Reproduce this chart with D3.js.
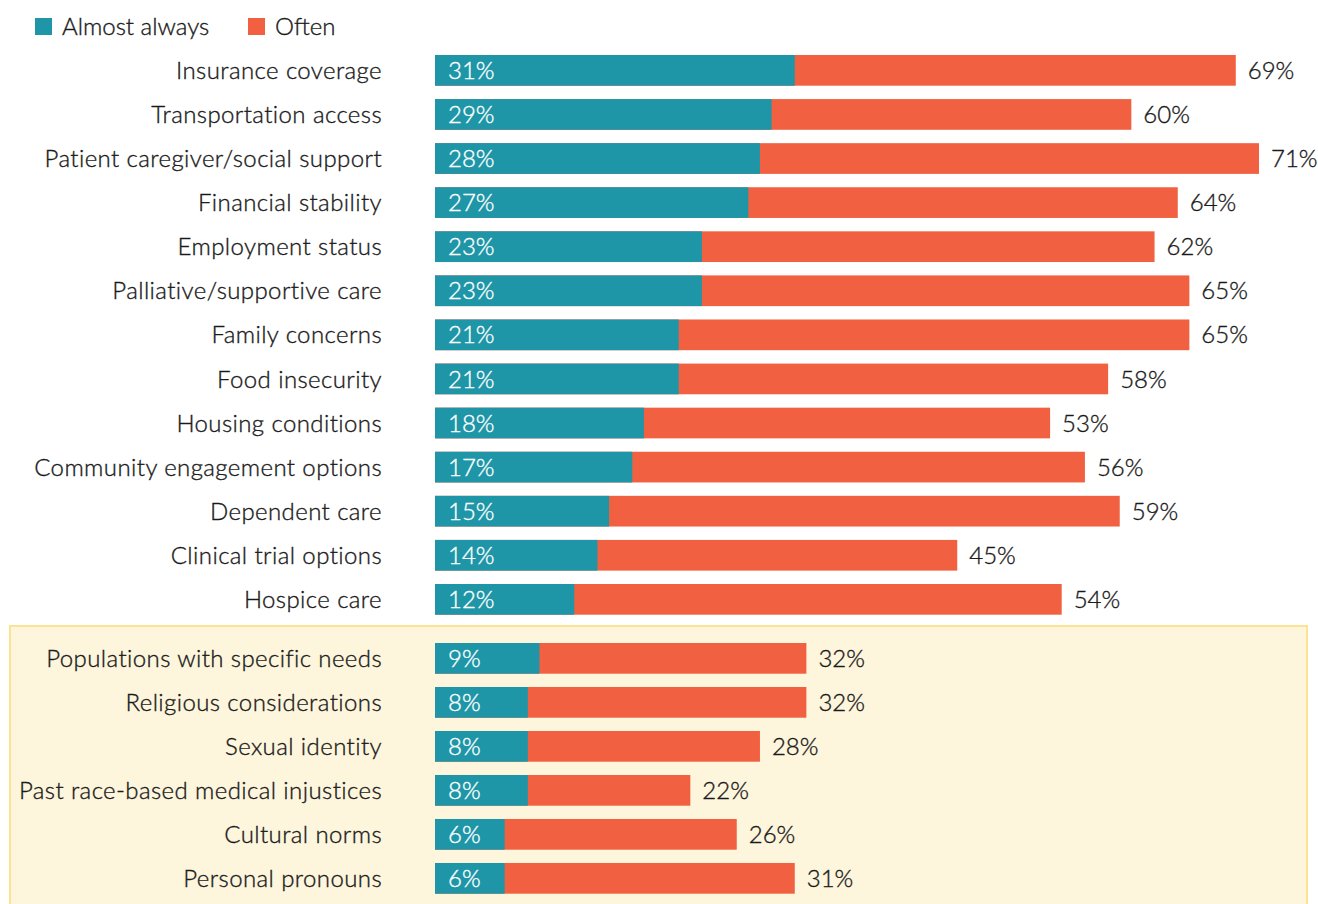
<!DOCTYPE html>
<html>
<head>
<meta charset="utf-8">
<script src="https://cdn.jsdelivr.net/npm/d3@7"></script>
<style>
  html, body { margin: 0; padding: 0; background: #fff; }
  svg { display: block; }
  text { font-family: Lato, "Open Sans", sans-serif; font-weight: 300; }
</style>
</head>
<body>
<svg id="chart" width="1318" height="904"></svg>
<script>
// Factors considered, share of respondents (%)
const categories = [
  "Insurance coverage",
  "Transportation access",
  "Patient caregiver/social support",
  "Financial stability",
  "Employment status",
  "Palliative/supportive care",
  "Family concerns",
  "Food insecurity",
  "Housing conditions",
  "Community engagement options",
  "Dependent care",
  "Clinical trial options",
  "Hospice care",
  "Populations with specific needs",
  "Religious considerations",
  "Sexual identity",
  "Past race-based medical injustices",
  "Cultural norms",
  "Personal pronouns"
];
// "Almost always" share
const almostAlways = [31, 29, 28, 27, 23, 23, 21, 21, 18, 17, 15, 14, 12, 9, 8, 8, 8, 6, 6];
// "Often" share (includes almost always)
const often = [69, 60, 71, 64, 62, 65, 65, 58, 53, 56, 59, 45, 54, 32, 32, 28, 22, 26, 31];
// Factors shown in the highlighted panel
const highlighted = [
  "Populations with specific needs",
  "Religious considerations",
  "Sexual identity",
  "Past race-based medical injustices",
  "Cultural norms",
  "Personal pronouns"
];
const seriesNames = ["Almost always", "Often"];

const colors = { "Almost always": "#1e96a7", "Often": "#f16141" };
const fontSize = 24;
const ink = "#1a1a1a";

const svg = d3.select("#chart");

const rows = categories.map((c, i) => ({
  name: c, aa: almostAlways[i], often: often[i], hi: highlighted.includes(c)
}));
const mainRows = rows.filter(d => !d.hi);
const hiRows = rows.filter(d => d.hi);

const x = d3.scaleLinear().domain([0, 71]).range([435, 1259]);

const yMain = d3.scaleBand().domain(mainRows.map(d => d.name))
  .range([55, 614.7]).paddingInner(0.3036).paddingOuter(0);
const yHi = d3.scaleBand().domain(hiRows.map(d => d.name))
  .range([643, 893.7]).paddingInner(0.302).paddingOuter(0);
const yOf = d => d.hi ? yHi(d.name) : yMain(d.name);
const bw = d => d.hi ? yHi.bandwidth() : yMain.bandwidth();

// Slightly heavier strokes for the light face
const weighted = (sel, color) => sel
  .attr("fill", color).attr("stroke", color)
  .attr("stroke-width", 0.35).attr("paint-order", "stroke");

// Highlight panel
svg.append("rect")
  .attr("x", 10).attr("y", 626)
  .attr("width", 1297).attr("height", 320)
  .attr("fill", "#fdf5dc")
  .attr("stroke", "#fce394").attr("stroke-width", 2);

// Legend
const legend = svg.append("g");
const legendX = [35, 248];
seriesNames.forEach((s, i) => {
  legend.append("rect").attr("x", legendX[i]).attr("y", 18)
    .attr("width", 17).attr("height", 17).attr("fill", colors[s]);
  legend.append("text").attr("x", legendX[i] + 27).attr("y", 35)
    .attr("font-size", fontSize).text(s).call(weighted, ink);
});

const g = svg.append("g");
const row = g.selectAll("g.row").data(rows).join("g").attr("class", "row");

// Often bar (from 0 to the often share)
row.append("rect")
  .attr("x", x(0)).attr("y", d => yOf(d))
  .attr("width", d => x(d.often) - x(0)).attr("height", d => bw(d))
  .attr("fill", colors["Often"]);

// Almost always bar
row.append("rect")
  .attr("x", x(0)).attr("y", d => yOf(d))
  .attr("width", d => x(d.aa) - x(0)).attr("height", d => bw(d))
  .attr("fill", colors["Almost always"]);

// Category labels
row.append("text")
  .attr("x", 382).attr("y", d => yOf(d) + bw(d) / 2)
  .attr("dy", "0.36em").attr("text-anchor", "end")
  .attr("font-size", fontSize).attr("letter-spacing", 0.4)
  .text(d => d.name).call(weighted, ink);

// Inside value labels
row.append("text")
  .attr("x", x(0) + 13).attr("y", d => yOf(d) + bw(d) / 2)
  .attr("dy", "0.36em")
  .attr("font-size", fontSize)
  .text(d => d.aa + "%").call(weighted, "#fff");

// End value labels
row.append("text")
  .attr("x", d => x(d.often) + 12).attr("y", d => yOf(d) + bw(d) / 2)
  .attr("dy", "0.36em")
  .attr("font-size", fontSize)
  .text(d => d.often + "%").call(weighted, ink);
</script>
</body>
</html>
